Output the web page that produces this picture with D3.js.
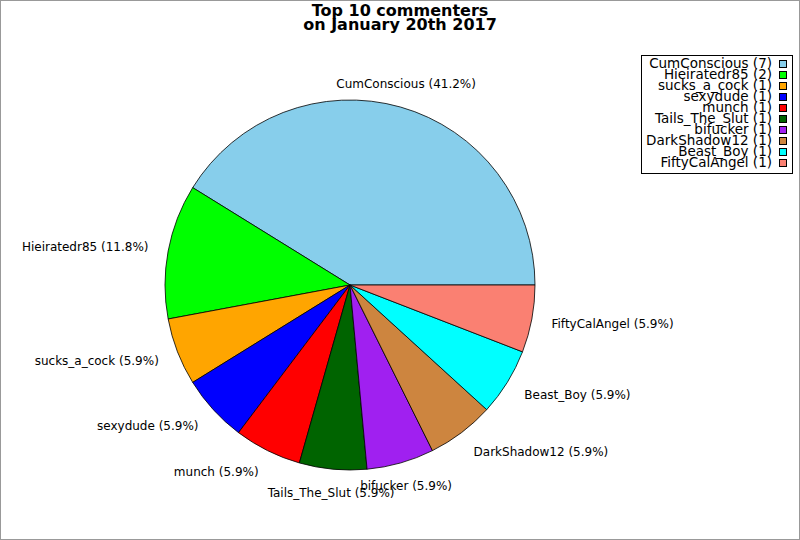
<!DOCTYPE html>
<html>
<head>
<meta charset="utf-8">
<script src="https://cdn.jsdelivr.net/npm/d3@7"></script>
<style>
  html, body { margin: 0; padding: 0; background: #fff; }
  svg { display: block; font-family: "DejaVu Sans", sans-serif; }
</style>
</head>
<body>
<script>
const names = ["CumConscious", "Hieiratedr85", "sucks_a_cock", "sexydude", "munch",
  "Tails_The_Slut", "bifucker", "DarkShadow12", "Beast_Boy", "FiftyCalAngel"]
const counts = [7, 2, 1, 1, 1, 1, 1, 1, 1, 1]
const colors = ["#87ceeb", "#00ff00", "#ffa500", "#0000ff", "#ff0000",
  "#006400", "#a020f0", "#cd853f", "#00ffff", "#fa8072"]
const titleLines = ["Top 10 commenters", "on January 20th 2017"]

const width = 800, height = 540
const cx = 350, cy = 285, radius = 185
const labelRx = 205, labelRy = 209

const svg = d3.select("body").append("svg")
  .attr("width", width)
  .attr("height", height)

svg.append("rect")
  .attr("x", 0.5).attr("y", 0.5)
  .attr("width", width - 1).attr("height", height - 1)
  .attr("fill", "#fff")
  .attr("stroke", "#999")

// title
svg.append("g")
  .selectAll("text")
  .data(titleLines)
  .join("text")
  .attr("x", 400)
  .attr("y", (d, i) => 16 + i * 14)
  .attr("text-anchor", "middle")
  .attr("font-size", 16)
  .attr("font-weight", "bold")
  .text(d => d)

const total = d3.sum(counts)
const data = names.map((n, i) => ({ name: n, value: counts[i], color: colors[i] }))

// start at 3 o'clock, go counter-clockwise
const pie = d3.pie()
  .value(d => d.value)
  .sort(null)
  .startAngle(Math.PI / 2)
  .endAngle(Math.PI / 2 - 2 * Math.PI)

const arcs = pie(data)
const arc = d3.arc().innerRadius(0).outerRadius(radius)

const g = svg.append("g").attr("transform", `translate(${cx},${cy})`)

g.selectAll("path")
  .data(arcs)
  .join("path")
  .attr("d", arc)
  .attr("fill", d => d.data.color)
  .attr("stroke", "#000")
  .attr("stroke-width", 0.8)
  .attr("stroke-linejoin", "round")

g.selectAll("text")
  .data(arcs)
  .join("text")
  .attr("font-size", 12)
  .attr("fill", "#000")
  .each(function (d) {
    const a = (d.startAngle + d.endAngle) / 2
    const s = Math.sin(a), c = Math.cos(a)
    d3.select(this)
      .attr("x", labelRx * s)
      .attr("y", -labelRy * c)
      .attr("dy", "0.35em")
      .attr("text-anchor", Math.abs(s) < 0.3 ? "middle" : (s > 0 ? "start" : "end"))
  })
  .text(d => `${d.data.name} (${(d.data.value / total * 100).toFixed(1)}%)`)

// legend
const legend = svg.append("g")
legend.append("rect")
  .attr("x", 641.5).attr("y", 55.5)
  .attr("width", 151).attr("height", 118)
  .attr("fill", "#fff")
  .attr("stroke", "#000")

const rows = legend.selectAll("g.row")
  .data(data)
  .join("g")
  .attr("class", "row")
  .attr("transform", (d, i) => `translate(0,${i * 11})`)

rows.append("text")
  .attr("x", 772)
  .attr("y", 68)
  .attr("text-anchor", "end")
  .attr("font-size", 13.5)
  .text(d => `${d.name} (${d.value})`)

rows.append("rect")
  .attr("x", 779.5).attr("y", 60.5)
  .attr("width", 7).attr("height", 7)
  .attr("fill", d => d.color)
  .attr("stroke", "#000")
  .attr("stroke-width", 1)
</script>
</body>
</html>
